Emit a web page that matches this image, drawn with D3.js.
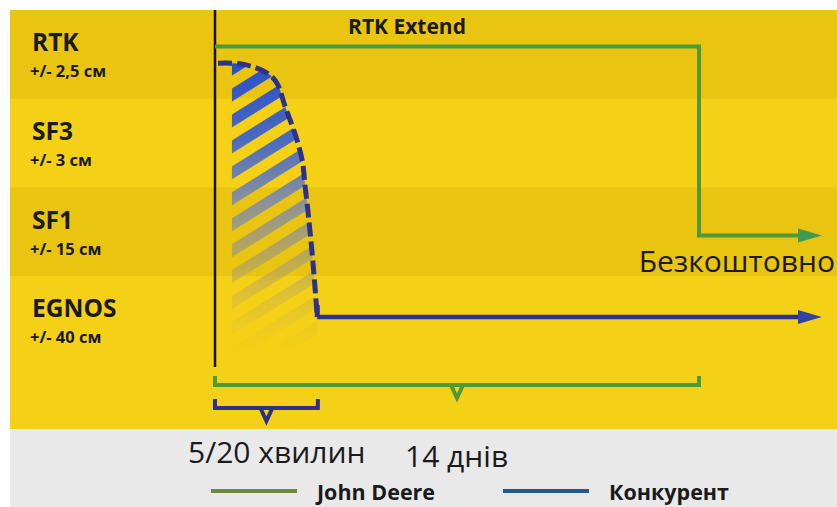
<!DOCTYPE html>
<html>
<head>
<meta charset="utf-8">
<script src="https://cdn.jsdelivr.net/npm/d3@7"></script>
<style>
  body { margin: 0; background: #ffffff; }
  svg { display: block; }
</style>
</head>
<body>
<div id="chart"></div>
<script>
// accuracy levels (rows)
const levels = ['RTK', 'SF3', 'SF1', 'EGNOS'];
const accuracy = ['+/- 2,5 см', '+/- 3 см', '+/- 15 см', '+/- 40 см'];

// John Deere: signal level over time (0..100 schematic time units, level index 0..4)
const deereX = [0, 80, 80, 97];
const deereY = [0.41, 0.41, 2.54, 2.54];

// competitor: curved drop (dashed) then flat
const compX = [0.5, 4.6, 8.6, 10.2, 11.6, 13.2, 14.4, 14.9, 15.4, 16.2, 16.9];
const compY = [0.6, 0.61, 0.71, 0.82, 1.09, 1.39, 1.69, 1.99, 2.29, 2.85, 3.46];
const compFlatX = [16.9, 97];
const compFlatY = [3.46, 3.46];

// brackets: time spans
const bracketNames = ['14 днів', '5/20 хвилин'];
const bracketFrom = [0, 0];
const bracketTo = [80, 17];

const legendNames = ['John Deere', 'Конкурент'];

const W = 837, H = 507;
const svg = d3.select('#chart').append('svg')
    .attr('width', W)
    .attr('height', H);

const x = d3.scaleLinear().domain([0, 100]).range([215, 820]);
const y = d3.scaleLinear().domain([0, 4]).range([10, 365]);

const defs = svg.append('defs');

// background panel
svg.append('rect').attr('x', 10).attr('y', 10).attr('width', W - 10).attr('height', 420).attr('fill', '#f4d016');
svg.append('rect').attr('x', 10).attr('y', 429).attr('width', W - 10).attr('height', H - 429).attr('fill', '#e9e9e9');

svg.selectAll('rect.band')
    .data(levels)
    .enter()
    .append('rect')
    .attr('class', 'band')
    .attr('x', 10)
    .attr('y', (d, i) => y(i))
    .attr('width', W - 10)
    .attr('height', (d, i) => i == 3 ? 429 - y(i) : y(i + 1) - y(i))
    .attr('fill', (d, i) => i % 2 == 0 ? '#e9c512' : '#f4d017');

// row labels
const labels = svg.selectAll('g.lab')
    .data(levels)
    .enter()
    .append('g')
    .attr('class', 'lab')
    .attr('font-family', 'Open Sans, sans-serif')
    .attr('font-weight', 'bold')
    .attr('fill', '#1a1a1a');
labels.append('text')
    .attr('x', 32)
    .attr('y', (d, i) => y(i) + 41)
    .attr('font-size', 24.5)
    .text(d => d);
labels.append('text')
    .attr('x', 30)
    .attr('y', (d, i) => y(i) + 67)
    .attr('font-size', 16.5)
    .text((d, i) => accuracy[i]);

// hatched fill under competitor curve
const grad = defs.append('linearGradient')
    .attr('id', 'hatchGrad')
    .attr('x1', 0).attr('y1', 0).attr('x2', 0).attr('y2', 1);
grad.append('stop').attr('offset', '0%').attr('stop-color', '#2b4ec8').attr('stop-opacity', 1);
grad.append('stop').attr('offset', '25%').attr('stop-color', '#4a6ac0').attr('stop-opacity', 1);
grad.append('stop').attr('offset', '45%').attr('stop-color', '#8790a0').attr('stop-opacity', 1);
grad.append('stop').attr('offset', '65%').attr('stop-color', '#a89d70').attr('stop-opacity', 0.7);
grad.append('stop').attr('offset', '95%').attr('stop-color', '#e0c040').attr('stop-opacity', 0);

const pat = defs.append('pattern')
    .attr('id', 'stripes')
    .attr('patternUnits', 'userSpaceOnUse')
    .attr('width', 22).attr('height', 22)
    .attr('patternTransform', 'rotate(-32)');
pat.append('rect').attr('x', 0).attr('y', 0).attr('width', 22).attr('height', 11).attr('fill', '#fff');

const mask = defs.append('mask').attr('id', 'hatchMask');
mask.append('rect').attr('x', 0).attr('y', 0).attr('width', W).attr('height', H).attr('fill', 'url(#stripes)');

const curve = d3.line()
    .x(d => x(d[0]))
    .y(d => y(d[1]))
    .curve(d3.curveCatmullRom);
const compPts = compX.map((v, i) => [v, compY[i]]);

defs.append('clipPath').attr('id', 'underCurve')
    .append('path')
    .attr('d', curve(compPts) + 'L' + x(compX[compX.length - 1]) + ',' + y(4) + 'L' + x(0) + ',' + y(4) + 'Z');

svg.append('g')
    .attr('clip-path', 'url(#underCurve)')
    .append('rect')
    .attr('x', x(2.8))
    .attr('y', y(0.6))
    .attr('width', x(17) - x(2.8))
    .attr('height', y(4) - y(0.6))
    .attr('fill', 'url(#hatchGrad)')
    .attr('mask', 'url(#hatchMask)');

// vertical axis
svg.append('line')
    .attr('x1', x(0)).attr('x2', x(0))
    .attr('y1', 10).attr('y2', 367)
    .attr('stroke', '#1d1208')
    .attr('stroke-width', 2.5);

// arrow markers
function arrow(id, color) {
    defs.append('marker')
        .attr('id', id)
        .attr('markerUnits', 'userSpaceOnUse')
        .attr('viewBox', '0 0 24 16')
        .attr('refX', 4).attr('refY', 8)
        .attr('markerWidth', 24).attr('markerHeight', 16)
        .attr('orient', 'auto')
        .append('path')
        .attr('d', 'M0,1 L24,8 L0,15 Z')
        .attr('fill', color);
}
arrow('arrGreen', '#3f9a52');
arrow('arrBlue', '#3340a6');

const poly = d3.line().x(d => x(d[0])).y(d => y(d[1]));

// John Deere line
svg.append('path')
    .datum(deereX.map((v, i) => [v, deereY[i]]))
    .attr('d', poly)
    .attr('fill', 'none')
    .attr('stroke', '#4d9a38')
    .attr('stroke-width', 4)
    .attr('marker-end', 'url(#arrGreen)');

// competitor dashed curve
svg.append('path')
    .attr('d', curve(compPts))
    .attr('fill', 'none')
    .attr('stroke', '#2d3188')
    .attr('stroke-width', 5)
    .attr('stroke-dasharray', '14,5');

// competitor flat line
svg.append('path')
    .datum(compFlatX.map((v, i) => [v, compFlatY[i]]))
    .attr('d', poly)
    .attr('fill', 'none')
    .attr('stroke', '#2d3188')
    .attr('stroke-width', 4.5)
    .attr('marker-end', 'url(#arrBlue)');

// small corner at the end of dashed drop
svg.append('path')
    .attr('d', 'M' + x(16.9) + ',' + (y(3.46) - 12) + 'V' + y(3.46))
    .attr('stroke', '#2d3188')
    .attr('stroke-width', 5)
    .attr('fill', 'none');

svg.append('text')
    .attr('x', 407).attr('y', 34)
    .attr('text-anchor', 'middle')
    .attr('font-family', 'Open Sans, sans-serif')
    .attr('font-weight', 'bold')
    .attr('font-size', 21)
    .attr('fill', '#1a1a1a')
    .text('RTK Extend');

svg.append('text')
    .attr('x', 835).attr('y', 272)
    .attr('text-anchor', 'end')
    .attr('font-family', 'Open Sans, sans-serif')
    .attr('font-size', 30)
    .attr('fill', '#1a1a1a')
    .text('Безкоштовно');

// brackets
const bracketY = [385, 408];
const bracketColor = ['#4d9a38', '#2d3188'];
bracketNames.forEach((name, i) => {
    const x0 = x(bracketFrom[i]), x1 = x(bracketTo[i]);
    const mid = (x0 + x1) / 2, by = bracketY[i];
    svg.append('path')
        .attr('d', 'M' + x0 + ',' + (by - 9) + 'V' + by + 'H' + x1 + 'V' + (by - 9)
            + 'M' + (mid - 6) + ',' + by + 'L' + mid + ',' + (by + 13) + 'L' + (mid + 6) + ',' + by)
        .attr('fill', 'none')
        .attr('stroke', bracketColor[i])
        .attr('stroke-width', 4);
});

// bracket labels
svg.append('text')
    .attr('x', 188).attr('y', 463)
    .attr('font-family', 'Open Sans, sans-serif')
    .attr('font-size', 30)
    .attr('fill', '#1a1a1a')
    .text(bracketNames[1]);
svg.append('text')
    .attr('x', 405).attr('y', 467)
    .attr('font-family', 'Open Sans, sans-serif')
    .attr('font-size', 30)
    .attr('fill', '#1a1a1a')
    .text(bracketNames[0]);

// legend
const legColor = ['#6b8a3c', '#1f5a92'];
const legX = [211, 503];
legendNames.forEach((name, i) => {
    svg.append('line')
        .attr('x1', legX[i]).attr('x2', legX[i] + 86)
        .attr('y1', 491).attr('y2', 491)
        .attr('stroke', legColor[i])
        .attr('stroke-width', 4);
    svg.append('text')
        .attr('x', legX[i] + 106).attr('y', 500)
        .attr('font-family', 'Open Sans, sans-serif')
        .attr('font-weight', 'bold')
        .attr('font-size', 21.5)
        .attr('fill', '#1a1a1a')
        .text(name);
});
</script>
</body>
</html>
